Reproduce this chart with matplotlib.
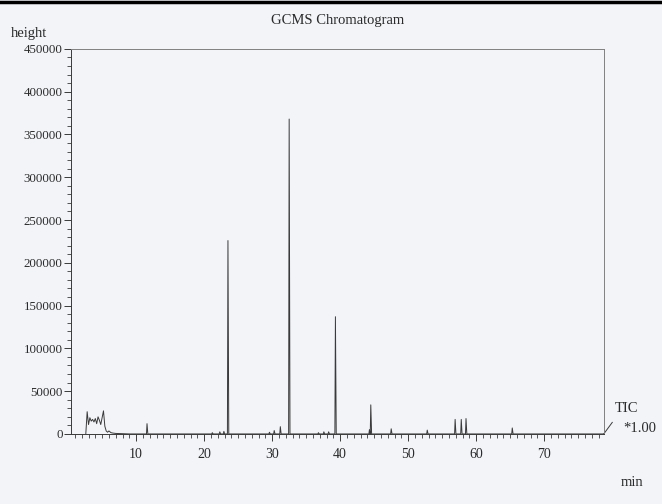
#!/usr/bin/env python

import matplotlib.pyplot as plt
import numpy as np
from matplotlib.lines import Line2D
from matplotlib.ticker import MultipleLocator

# retention time (min) and height of the sharp peaks
peak_rt = np.array([11.6, 21.2, 22.3, 22.9, 23.5, 29.6, 30.3, 31.2, 32.5,
                    36.8, 37.6, 38.3, 39.3, 44.3, 44.5, 47.5, 52.8,
                    56.9, 57.8, 58.5, 65.3])
peak_h = np.array([12000, 1500, 2500, 3000, 226000, 2000, 4000, 8500, 368000,
                   1500, 2500, 2500, 137000, 5000, 34000, 6000, 4500,
                   17000, 17000, 18000, 7000])

# early cluster, read point by point
early_t = [2.6, 2.8, 3.0, 3.2, 3.4, 3.6, 3.8, 4.0, 4.2, 4.4, 4.6, 4.8,
           5.0, 5.2, 5.4, 5.6, 5.8, 6.0, 6.3, 6.6, 7.0, 8.0, 9.0]
early_h = [0, 26000, 11000, 19000, 15000, 17000, 14000, 18000, 12000,
           20000, 16000, 11000, 19000, 27000, 9000, 3500, 2000, 3500,
           1500, 1000, 600, 300, 0]

t = list(early_t)
h = list(early_h)
for rt, ht in zip(peak_rt, peak_h):
    t += [rt - 0.08, rt, rt + 0.12]
    h += [0, ht, 0]
t.append(78.8)
h.append(0)
order = np.argsort(t, kind="stable")
t = np.array(t)[order]
h = np.array(h)[order]

plt.rcParams['font.family'] = ['Liberation Serif', 'DejaVu Serif']
bg = '#f2f4f8'
ink = '#3a3a3a'
txt = '#2a2a2a'

fig = plt.figure(figsize=(6.62, 5.04), dpi=100, facecolor=bg)
ax = fig.add_axes([0.107, 0.139, 0.805, 0.764], facecolor=bg)
ax.plot(t, h, color=ink, lw=0.7)

ax.set_xlim(0.4, 78.75)
ax.set_ylim(0, 450000)
ax.xaxis.set_major_locator(MultipleLocator(10))
ax.xaxis.set_minor_locator(MultipleLocator(1))
ax.yaxis.set_major_locator(MultipleLocator(50000))
ax.yaxis.set_minor_locator(MultipleLocator(10000))
ax.tick_params(axis='both', which='major', length=5, width=0.7, color=ink,
               labelcolor=txt)
ax.tick_params(axis='both', which='minor', length=3, width=0.6, color=ink)
ax.tick_params(axis='y', labelsize=9.3, pad=1)
ax.tick_params(axis='x', labelsize=10, pad=5)
for s in ax.spines.values():
    s.set_color('#808080')
    s.set_linewidth(0.7)
ax.spines['left'].set_color(ink)
ax.spines['bottom'].set_color(ink)

ax.set_title('GCMS Chromatogram', fontsize=10.5, color=txt, pad=18)
fig.text(0.017, 0.926, 'height', fontsize=10.5, color=txt)
fig.text(0.928, 0.182, 'TIC', fontsize=10.5, color=txt)
fig.text(0.941, 0.142, '*1.00', fontsize=10.5, color=txt)
fig.text(0.937, 0.036, 'min', fontsize=10.5, color=txt)

# little slanted stroke at the right end of the baseline
ax.add_line(Line2D([1.0, 1.016], [0.0, 0.03], transform=ax.transAxes,
                   color=ink, lw=0.7, clip_on=False))
# black edge at the top of the scan
fig.add_artist(Line2D([0, 1], [0.996, 0.996], transform=fig.transFigure,
                      color='black', lw=2.5))

fig.savefig('out.png', dpi=100, facecolor=bg)
